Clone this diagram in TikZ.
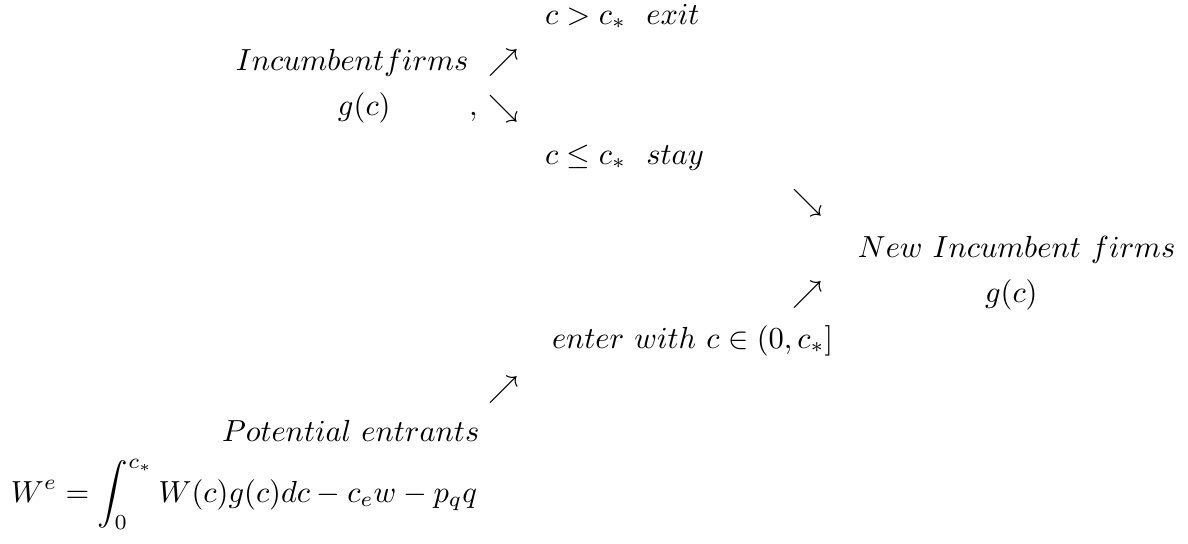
\documentclass[tikz,border=0pt]{standalone}
\usepackage{amsmath}
\begin{document}
\begin{tikzpicture}[x=0.3279pt,y=-0.3279pt,
  lbl/.style={anchor=base west,inner sep=0pt,outer sep=0pt},
  arr/.style={anchor=base west,inner sep=0pt,outer sep=0pt}]
\useasboundingbox (0,0) rectangle (1188,544);
\node[lbl] (exit) at (545,24) {$c>c_*\ \ exit$};
\node[lbl] (inc) at (236,70) {$Incumbentfirms$};
\node[arr] (a1) at (489,70) {$\nearrow$};
\node[lbl] (g1) at (338,115) {$g(c)$};
\node[lbl] (comma) at (469,115) {$,$};
\node[arr] (a2) at (489,116) {$\searrow$};
\node[lbl] (stay) at (545,164) {$c\leq c_*\ \ stay$};
\node[arr] (a3) at (792,210) {$\searrow$};
\node[lbl] (newinc) at (858,257) {$New\ Incumbent\ firms$};
\node[arr] (a4) at (792,302) {$\nearrow$};
\node[lbl] (g2) at (985,302) {$g(c)$};
\node[lbl] (enter) at (552,348) {$enter\ with\ c\in(0,c_*]$};
\node[arr] (a5) at (489,397) {$\nearrow$};
\node[lbl] (pot) at (222,441) {$Potential\ entrants$};
\node[lbl] (we) at (11,502) {$\displaystyle W^e=\int_0^{c_*}W(c)g(c)dc-c_ew-p_qq$};
\end{tikzpicture}
\end{document}
